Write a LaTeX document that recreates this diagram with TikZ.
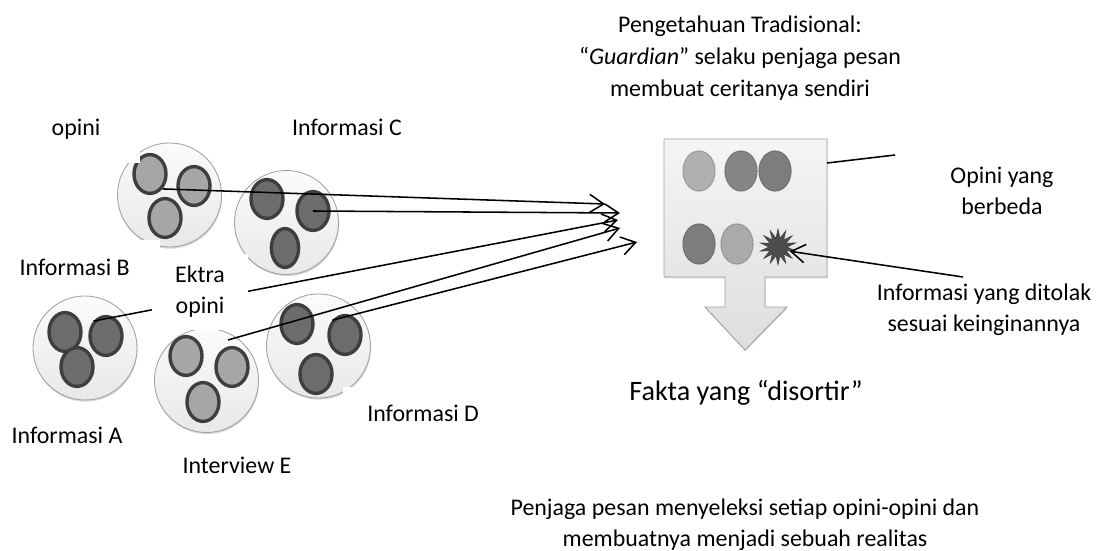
\documentclass[tikz,border=0pt]{standalone}
\usepackage{fontspec}
\setmainfont{Carlito}
\usetikzlibrary{arrows.meta,shapes.geometric,shadows,positioning}

\definecolor{rimgray}{HTML}{A0A0A0}
\definecolor{inkgray}{HTML}{3E3E3E}
\definecolor{lightop}{HTML}{A6A6A6}
\definecolor{darkop}{HTML}{6C6C6C}
\definecolor{chippale}{HTML}{B0B0B0}
\definecolor{chipmid}{HTML}{858585}
\definecolor{chipdeep}{HTML}{7D7D7D}
\definecolor{chipsoft}{HTML}{AAAAAA}

\tikzset{
  bubble/.style={circle, draw=rimgray, line width=0.6pt, top color=gray!3, bottom color=gray!18,
    minimum size=2.6cm, inner sep=0pt,
    drop shadow={shadow xshift=0.4pt, shadow yshift=-1.2pt, fill=gray!60}},
  blobL/.style={ellipse, draw=inkgray, line width=2.4pt, fill=lightop,
    minimum width=0.8cm, minimum height=0.97cm, inner sep=0pt},
  blobD/.style={blobL, fill=darkop},
  chip/.style={ellipse, draw=black!10!#1, line width=0.8pt, fill=#1,
    minimum width=0.8cm, minimum height=1cm, inner sep=0pt},
  lbl/.style={text height=0.65em, text depth=0.25em, inner sep=0pt},
  cutlbl/.style={fill=white, inner sep=0pt, align=flush left},
  link/.style={line width=1.1pt}
}

\begin{document}
\begin{tikzpicture}[x=0.025cm, y=-0.025cm, >={Straight Barb[length=10pt,width=13pt]},
  font=\fontsize{17}{22}\selectfont]
        % Fix the page size
        \useasboundingbox (0,0) rectangle (1103,551);

        % Draw the bubbles
        \node[bubble] (bubB) at (169.5,195) {};
        \node[bubble] (bubC) at (286.5,222.5) {};
        \node[bubble] (bubA) at (85,348) {};
        \node[bubble] (bubE) at (206.5,380.5) {};
        \node[bubble] (bubD) at (318.5,346) {};

        % Draw the opinions in each bubble
        \node[blobL] (b1) at (150,174) {};
        \node[blobL] (b2) at (194,186) {};
        \node[blobL] (b3) at (165,218) {};
        \node[blobD] (c1) at (267,199) {};
        \node[blobD] (c2) at (313,211) {};
        \node[blobD, minimum width=0.68cm] (c3) at (285,248) {};
        \node[blobD] (a1) at (65,332) {};
        \node[blobD] (a2) at (106,336) {};
        \node[blobD] (a3) at (77,367) {};
        \node[blobL] (e1) at (186,356) {};
        \node[blobL] (e2) at (232,367) {};
        \node[blobL] (e3) at (203,402) {};
        \node[blobD] (d1) at (297,324) {};
        \node[blobD] (d2) at (345,335) {};
        \node[blobD] (d3) at (316,374) {};

        % Draw the guardian box with its arrow
        \path[draw=gray!75, line width=0.6pt, top color=gray!8, bottom color=gray!26,
          drop shadow={shadow xshift=0.4pt, shadow yshift=-1pt, fill=gray!55}]
          (664,139) -- (827,139) -- (827,277) -- (765,277) -- (765,307) -- (787,307)
          -- (745,350) -- (705,307) -- (725,307) -- (725,277) -- (664,277) -- cycle;

        % Opinions kept in the box
        \node[chip=chippale] (k1) at (699,171) {};
        \node[chip=chipmid] (k2) at (741,171) {};
        \node[chip=chipdeep] (k3) at (775,171) {};
        \node[chip=chipdeep] (k4) at (699,244) {};
        \node[chip=chipsoft] (k5) at (737,244) {};
        \node[star, star points=14, star point ratio=2, minimum size=0.9cm, inner sep=0pt,
          fill=gray!60!black, draw=gray!50!black] (junk) at (778,247) {};

        % Arrow ends
        \coordinate (tipB) at (605,204);
        \coordinate (tipC) at (620,213);
        \coordinate (tipA) at (618,220);
        \coordinate (tipE) at (620,228);
        \coordinate (tipD) at (637,242);
        \coordinate (outE) at (228,340);
        \coordinate (boxR) at (827,163);
        \coordinate (bedaEnd) at (895,155);
        \coordinate (tolakEnd) at (963,277);

        % Draw the arrows into the box
        \draw[link, ->] (b1.south east) -- (tipB);
        \draw[link, ->] (c2.center) -- (tipC);
        \draw[link, ->] (a2.north west) -- (tipA);
        \draw[link, ->] (outE) -- (tipE);
        \draw[link, ->] (d2.north west) -- (tipD);
        \draw[link] (boxR) -- (bedaEnd);
        \draw[link, ->] (tolakEnd) -- (junk.340);

        % Labels that cover parts of the bubbles
        \node[cutlbl, anchor=south east, text width=2.2cm, minimum height=1.7cm] (opini) at (140,163) {opini};
        \node[cutlbl, anchor=east, text width=3.5cm, minimum height=1.35cm] (infoB) at (160,267) {Informasi B};
        \node[cutlbl, align=center, minimum width=2.4cm, minimum height=1.9cm] (ektra) at (200,292) {Ektra\\opini};
        \node[cutlbl, anchor=north west, text width=3cm, inner xsep=0.6cm, minimum height=1.3cm] (infoD) at (343,387) {Informasi D};

        % Add labels
        \node[lbl] (infoC) at (347,133) {Informasi C};
        \node[lbl] (infoA) at (67,441) {Informasi A};
        \node[lbl] (intE) at (237,471) {Interview E};
        \node[align=center, font=\fontsize{17}{23}\selectfont] (title) at (740,58) {Pengetahuan Tradisional:\\“\textit{Guardian}” selaku penjaga pesan\\membuat ceritanya sendiri};
        \node[lbl, font=\fontsize{20}{24}\selectfont] (fakta) at (746,398) {Fakta yang “disortir”};
        \node[align=center] (beda) at (1002,191) {Opini yang\\berbeda};
        \node[align=center] (tolak) at (984,310) {Informasi yang ditolak\\sesuai keinginannya};
        \node[align=center] (realitas) at (745,525) {Penjaga pesan menyeleksi setiap opini-opini dan\\membuatnya menjadi sebuah realitas};
      \end{tikzpicture}
\end{document}
